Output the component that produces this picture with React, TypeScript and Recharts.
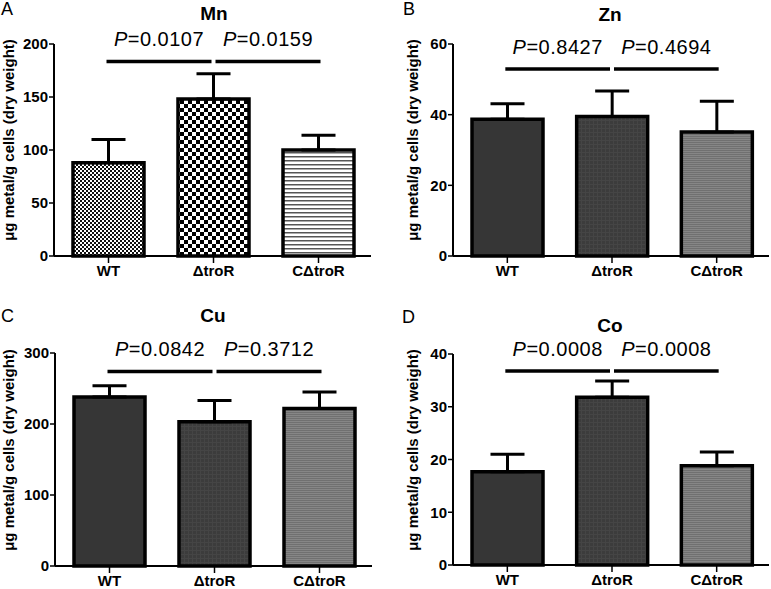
import { BarChart, Bar, XAxis, YAxis, Cell, ErrorBar, ReferenceLine } from "recharts";

const FONT = "'Liberation Sans', Arial, Helvetica, sans-serif";

const strains = ["WT", "ΔtroR", "CΔtroR"];
const panelLetters = ["A", "B", "C", "D"];
const metals = ["Mn", "Zn", "Cu", "Co"];
const yTitle = "μg metal/g cells (dry weight)";

// means and upper error bars
const mnMean = [88, 148, 100];
const mnErr = [22, 24, 14];
const znMean = [38.7, 39.5, 35.1];
const znErr = [4.4, 7.2, 8.7];
const cuMean = [238, 203, 222];
const cuErr = [16, 30, 23];
const coMean = [17.7, 31.8, 18.8];
const coErr = [3.3, 3.1, 2.6];

const mnTicks = [0, 50, 100, 150, 200];
const znTicks = [0, 20, 40, 60];
const cuTicks = [0, 100, 200, 300];
const coTicks = [0, 10, 20, 30, 40];

const mnP = ["0.0107", "0.0159"];
const znP = ["0.8427", "0.4694"];
const cuP = ["0.0842", "0.3712"];
const coP = ["0.0008", "0.0008"];

// height of the comparison brackets (data units)
const bracketY = [183.6, 52.9, 274, 36.8];

const patternFills = ["url(#fineCheck)", "url(#bigCheck)", "url(#hLines)"];
const greyFills = ["#363636", "url(#darkGrid)", "url(#greyStripe)"];

const layouts = [
  { left: 0, top: 0, width: 385, height: 290, plotLeft: 54, plotRight: 371, plotTop: 44, plotBottom: 256 },
  { left: 385, top: 0, width: 386, height: 290, plotLeft: 68, plotRight: 384, plotTop: 44, plotBottom: 256 },
  { left: 0, top: 290, width: 385, height: 299, plotLeft: 55, plotRight: 372, plotTop: 63, plotBottom: 276 },
  { left: 385, top: 290, width: 386, height: 299, plotLeft: 68, plotRight: 384, plotTop: 64, plotBottom: 275 },
];

// overlay text positions (page coords)
const letterPos = [[1, 15], [403, 15], [1, 322], [402, 323]];
const titlePos = [[214, 20], [610, 21], [213, 322], [610, 332]];
const yLabelPos = [[14, 140], [418, 140], [14, 450], [418, 450]];

const bracket = (p: string, shift: number) => (props: any) => {
  const { x1, y1, x2, y2 } = props;
  const a = x1 + shift;
  const b = x2 + shift;
  return (
    <g>
      <line x1={a} y1={y1} x2={b} y2={y2} stroke="#000" strokeWidth={3.5} />
      <text x={(a + b) / 2} y={y1 - 15} textAnchor="middle" fontSize={20} fontFamily={FONT} letterSpacing={0.5} fill="#000">
        <tspan fontStyle="italic">P</tspan>={p}
      </text>
    </g>
  );
};

function Panel({ layout, means, errs, ticks, pValues, sigY, fills }: any) {
  const data = strains.map((name, i) => ({ name, value: means[i], err: [0, errs[i]] }));
  const { left, top, width, height, plotLeft, plotRight, plotTop, plotBottom } = layout;
  return (
    <div style={{ position: "absolute", left, top, width, height }}>
      <BarChart
        width={width}
        height={height}
        data={data}
        margin={{ top: plotTop, right: width - plotRight, bottom: 0, left: 0 }}
      >
        <XAxis
          dataKey="name"
          interval={0}
          height={height - plotBottom}
          padding={{ left: 2, right: 0 }}
          tickSize={7}
          tickMargin={2}
          axisLine={{ stroke: "#000", strokeWidth: 2 }}
          tickLine={{ stroke: "#000", strokeWidth: 1.5 }}
          tick={{ fill: "#000", fontSize: 15, fontWeight: "bold", fontFamily: FONT }}
        />
        <YAxis
          width={plotLeft}
          domain={[ticks[0], ticks[ticks.length - 1]]}
          ticks={ticks}
          interval={0}
          tickSize={5}
          tickMargin={1}
          axisLine={{ stroke: "#000", strokeWidth: 2 }}
          tickLine={{ stroke: "#000", strokeWidth: 1.5 }}
          tick={{ fill: "#000", fontSize: 15, fontWeight: "bold", fontFamily: FONT }}
        />
        <Bar dataKey="value" barSize={71} stroke="#000" strokeWidth={3.5} isAnimationActive={false}>
          {data.map((d, i) => (
            <Cell key={d.name} fill={fills[i]} />
          ))}
          <ErrorBar dataKey="err" width={17} stroke="#000" strokeWidth={3} direction="y" />
        </Bar>
        <ReferenceLine
          segment={[{ x: strains[0], y: sigY }, { x: strains[1], y: sigY }]}
          shape={bracket(pValues[0], -2)}
        />
        <ReferenceLine
          segment={[{ x: strains[1], y: sigY }, { x: strains[2], y: sigY }]}
          shape={bracket(pValues[1], 2)}
        />
      </BarChart>
    </div>
  );
}

export default function App() {
  const panels = [
    { means: mnMean, errs: mnErr, ticks: mnTicks, pValues: mnP, fills: patternFills },
    { means: znMean, errs: znErr, ticks: znTicks, pValues: znP, fills: greyFills },
    { means: cuMean, errs: cuErr, ticks: cuTicks, pValues: cuP, fills: greyFills },
    { means: coMean, errs: coErr, ticks: coTicks, pValues: coP, fills: greyFills },
  ];
  return (
    <div style={{ position: "absolute", left: 0, top: 0, width: 771, height: 589, background: "#fff" }}>
      <svg width={0} height={0} style={{ position: "absolute" }}>
        <defs>
          <pattern id="fineCheck" width={4} height={4} patternUnits="userSpaceOnUse">
            <rect width={4} height={4} fill="#fff" />
            <rect width={2} height={2} fill="#111" />
            <rect x={2} y={2} width={2} height={2} fill="#111" />
          </pattern>
          <pattern id="bigCheck" width={8} height={8} patternUnits="userSpaceOnUse">
            <rect width={8} height={8} fill="#fff" />
            <rect width={4} height={4} fill="#000" />
            <rect x={4} y={4} width={4} height={4} fill="#000" />
          </pattern>
          <pattern id="hLines" width={4} height={4} patternUnits="userSpaceOnUse">
            <rect width={4} height={4} fill="#fff" />
            <rect width={4} height={1.5} fill="#555" />
          </pattern>
          <pattern id="darkGrid" width={4} height={4} patternUnits="userSpaceOnUse">
            <rect width={4} height={4} fill="#3c3c3c" />
            <rect width={4} height={1} fill="#454545" />
            <rect width={1} height={4} fill="#454545" />
          </pattern>
          <pattern id="greyStripe" width={4} height={2} patternUnits="userSpaceOnUse">
            <rect width={4} height={2} fill="#868686" />
            <rect width={4} height={1} fill="#707070" />
          </pattern>
        </defs>
      </svg>
      {panels.map((p, i) => (
        <Panel key={metals[i]} layout={layouts[i]} sigY={bracketY[i]} {...p} />
      ))}
      <svg width={771} height={589} style={{ position: "absolute", left: 0, top: 0, pointerEvents: "none" }}>
        {panelLetters.map((l, i) => (
          <text key={l} x={letterPos[i][0]} y={letterPos[i][1]} fontSize={18} fontFamily={FONT} fill="#000">
            {l}
          </text>
        ))}
        {metals.map((m, i) => (
          <text key={m} x={titlePos[i][0]} y={titlePos[i][1]} textAnchor="middle" fontSize={19} fontWeight="bold" fontFamily={FONT} fill="#000">
            {m}
          </text>
        ))}
        {yLabelPos.map(([x, y], i) => (
          <text
            key={i}
            x={x}
            y={y}
            transform={`rotate(-90, ${x}, ${y})`}
            textAnchor="middle"
            fontSize={15}
            fontWeight="bold"
            fontFamily={FONT}
            fill="#000"
          >
            {yTitle}
          </text>
        ))}
      </svg>
    </div>
  );
}
